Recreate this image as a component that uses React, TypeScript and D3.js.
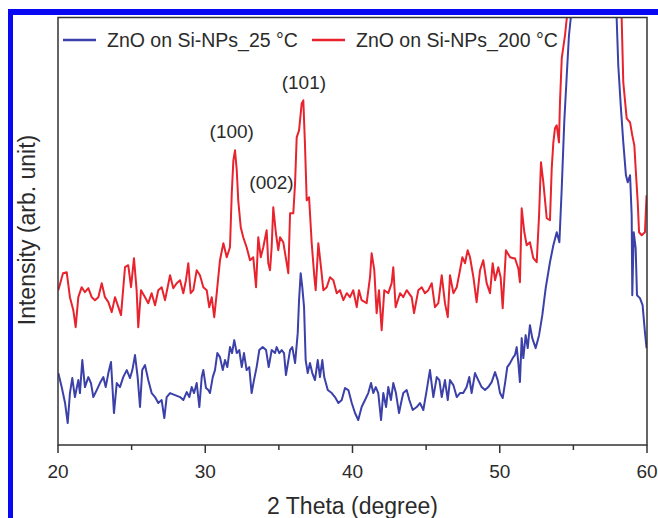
import * as d3 from 'd3';

const WIDTH = 658;
const HEIGHT = 518;

// 2θ range and axis ticks
const X_DOMAIN: [number, number] = [20, 60];
const MAJOR_TICKS = [20, 30, 40, 50, 60];
const MINOR_TICKS = [25, 35, 45, 55];

// intensity (arb. unit)
const Y_DOMAIN: [number, number] = [0, 428];

const SERIES_NAMES = ['ZnO on Si-NPs_25 °C', 'ZnO on Si-NPs_200 °C'];
const SERIES_COLORS = ['#3b41a8', '#e8232d'];

const PEAK_LABELS = ['(100)', '(002)', '(101)'];
const PEAK_POS: [number, number][] = [
  [31.8, 307],
  [34.5, 256],
  [36.7, 356],
];

// ZnO on Si-NPs_25 °C  [2θ, intensity]
const blue25: [number, number][] = [
  [20.02, 72], [20.25, 58], [20.48, 42], [20.66, 22], [20.81, 52], [20.97, 67], [21.15, 48],
  [21.38, 65], [21.49, 52], [21.65, 85], [21.83, 58], [22.06, 68], [22.24, 62], [22.4, 48],
  [22.63, 55], [22.85, 62], [23.08, 68], [23.24, 58], [23.42, 72], [23.6, 83], [23.8, 32],
  [23.99, 62], [24.21, 58], [24.43, 68], [24.67, 75], [24.89, 67], [25.05, 75], [25.23, 90],
  [25.41, 68], [25.57, 38], [25.72, 75], [25.91, 80], [26.13, 65], [26.36, 52], [26.59, 48],
  [26.81, 42], [27.04, 45], [27.22, 27], [27.38, 48], [27.61, 52], [27.95, 50], [28.29, 48],
  [28.51, 45], [28.74, 53], [28.92, 48], [29.08, 58], [29.24, 52], [29.42, 62], [29.6, 38],
  [29.76, 68], [29.87, 75], [30.05, 57], [30.21, 55], [30.32, 52], [30.51, 68], [30.66, 75],
  [30.82, 92], [31.0, 88], [31.19, 75], [31.34, 85], [31.5, 78], [31.68, 98], [31.82, 92],
  [31.97, 105], [32.14, 92], [32.31, 95], [32.48, 78], [32.63, 92], [32.81, 75], [32.99, 78],
  [33.15, 52], [33.31, 65], [33.49, 78], [33.67, 95], [33.9, 98], [34.13, 95], [34.31, 78],
  [34.51, 95], [34.74, 92], [34.85, 98], [35.03, 92], [35.19, 95], [35.35, 92], [35.48, 70],
  [35.76, 95], [35.91, 98], [36.1, 82], [36.28, 112], [36.37, 145], [36.48, 172], [36.59, 158],
  [36.71, 138], [36.82, 85], [36.96, 72], [37.11, 82], [37.27, 72], [37.45, 65], [37.64, 85],
  [37.79, 68], [37.95, 85], [38.08, 68], [38.32, 55], [38.59, 52], [38.81, 48], [39.04, 42],
  [39.27, 45], [39.49, 57], [39.72, 55], [39.95, 42], [40.17, 32], [40.39, 25], [40.62, 38],
  [40.85, 45], [41.07, 52], [41.26, 62], [41.41, 52], [41.58, 58], [41.75, 52], [41.94, 25],
  [42.09, 52], [42.28, 38], [42.43, 58], [42.61, 45], [42.77, 62], [42.95, 52], [43.16, 32],
  [43.34, 45], [43.45, 52], [43.68, 55], [43.86, 45], [44.09, 35], [44.36, 38], [44.58, 42],
  [44.81, 35], [45.04, 55], [45.26, 75], [45.49, 48], [45.72, 68], [45.9, 65], [46.06, 48],
  [46.28, 65], [46.47, 45], [46.62, 65], [46.85, 60], [47.08, 48], [47.3, 52], [47.52, 52],
  [47.75, 58], [47.93, 68], [48.09, 52], [48.32, 72], [48.54, 65], [48.77, 58], [49.0, 55],
  [49.22, 58], [49.45, 63], [49.68, 73], [49.86, 65], [50.02, 52], [50.2, 47], [50.36, 62],
  [50.51, 78], [50.7, 82], [50.92, 88], [51.03, 90], [51.15, 98], [51.26, 83], [51.37, 63],
  [51.49, 107], [51.6, 87], [51.76, 110], [51.9, 97], [52.05, 120], [52.21, 107], [52.44, 97],
  [52.67, 110], [52.89, 130], [53.12, 157], [53.41, 183], [53.64, 200], [53.87, 213], [54.05, 203],
  [54.21, 257], [54.38, 323], [54.55, 370], [54.7, 410], [54.82, 427], [55.2, 560], [55.8, 850],
  [56.4, 950], [57.0, 820], [57.5, 600], [57.94, 427], [58.05, 380], [58.23, 337], [58.39, 303],
  [58.57, 270], [58.69, 263], [58.85, 270], [58.96, 230], [59.0, 150], [59.1, 213], [59.23, 197],
  [59.32, 150], [59.52, 147], [59.7, 140], [59.86, 113], [59.97, 97],
];

// ZnO on Si-NPs_200 °C  [2θ, intensity]
const red200: [number, number][] = [
  [20.02, 155], [20.34, 172], [20.59, 173], [20.81, 148], [21.04, 135], [21.2, 118], [21.38, 148],
  [21.61, 158], [21.83, 153], [22.06, 157], [22.29, 148], [22.51, 145], [22.74, 148], [22.97, 162],
  [23.19, 148], [23.42, 143], [23.65, 133], [23.87, 148], [24.1, 138], [24.28, 130], [24.55, 178],
  [24.77, 180], [24.96, 158], [25.16, 187], [25.34, 155], [25.45, 118], [25.64, 155], [25.91, 148],
  [26.13, 142], [26.36, 152], [26.59, 140], [26.81, 155], [27.04, 158], [27.27, 145], [27.61, 170],
  [27.83, 157], [28.06, 162], [28.29, 165], [28.51, 152], [28.69, 165], [28.85, 182], [29.01, 152],
  [29.19, 155], [29.42, 175], [29.64, 170], [29.87, 158], [30.1, 155], [30.27, 138], [30.44, 148],
  [30.61, 128], [30.78, 152], [31.0, 185], [31.23, 202], [31.46, 188], [31.68, 198], [31.8, 252],
  [31.91, 285], [32.02, 295], [32.14, 275], [32.24, 245], [32.41, 218], [32.58, 208], [32.81, 198],
  [33.04, 185], [33.26, 188], [33.45, 158], [33.6, 208], [33.77, 188], [33.94, 198], [34.17, 215],
  [34.28, 182], [34.4, 175], [34.51, 198], [34.62, 238], [34.8, 212], [34.96, 195], [35.08, 208],
  [35.3, 203], [35.53, 182], [35.64, 172], [35.76, 232], [35.98, 232], [36.1, 262], [36.21, 308],
  [36.37, 315], [36.55, 342], [36.66, 345], [36.77, 302], [36.89, 245], [37.05, 248], [37.23, 202],
  [37.41, 168], [37.5, 155], [37.68, 202], [37.86, 178], [38.02, 155], [38.25, 158], [38.47, 168],
  [38.7, 165], [38.93, 152], [39.15, 155], [39.38, 145], [39.61, 152], [39.83, 148], [40.05, 155],
  [40.29, 138], [40.44, 155], [40.62, 145], [40.96, 142], [41.19, 168], [41.3, 192], [41.48, 175],
  [41.64, 132], [41.8, 155], [41.98, 115], [42.16, 155], [42.43, 152], [42.66, 162], [42.77, 178],
  [42.93, 138], [43.23, 152], [43.45, 148], [43.68, 155], [44.02, 148], [44.18, 132], [44.47, 155],
  [44.7, 158], [44.92, 152], [45.15, 155], [45.38, 162], [45.6, 138], [45.83, 142], [46.06, 170],
  [46.28, 142], [46.47, 128], [46.62, 170], [46.85, 152], [47.08, 158], [47.3, 175], [47.46, 188],
  [47.64, 182], [47.82, 195], [47.98, 188], [48.21, 168], [48.43, 143], [48.66, 175], [48.88, 185],
  [49.11, 162], [49.34, 152], [49.52, 182], [49.68, 165], [49.9, 178], [50.06, 168], [50.2, 137],
  [50.42, 195], [50.7, 188], [50.92, 187], [51.03, 187], [51.26, 177], [51.37, 163], [51.49, 237],
  [51.67, 213], [51.83, 200], [52.05, 203], [52.28, 187], [52.51, 183], [52.67, 230], [52.8, 283],
  [52.96, 263], [53.19, 227], [53.41, 225], [53.53, 277], [53.64, 303], [53.75, 317], [53.87, 320],
  [54.02, 303], [54.09, 343], [54.21, 387], [54.43, 410], [54.55, 427], [55.0, 520], [55.6, 800],
  [56.2, 950], [56.8, 900], [57.4, 700], [57.9, 530], [58.28, 427], [58.39, 363], [58.62, 327],
  [58.85, 323], [59.0, 310], [59.14, 300], [59.23, 277], [59.37, 243], [59.46, 213], [59.64, 210],
  [59.86, 213], [59.97, 250],
];

const SERIES = [blue25, red200];

const margin = { top: 17.5, right: 11, bottom: 73, left: 58 };
const innerW = WIDTH - margin.left - margin.right;
const innerH = HEIGHT - margin.top - margin.bottom;

const FONT = '"Liberation Sans", Arial, Helvetica, sans-serif';
const INK = '#2b2b2b';

export default function App() {
  const x = d3.scaleLinear().domain(X_DOMAIN).range([0, innerW]);
  const y = d3.scaleLinear().domain(Y_DOMAIN).range([innerH, 0]);

  const line = d3
    .line<[number, number]>()
    .x((d) => x(d[0]))
    .y((d) => y(d[1]));

  return (
    <svg
      width={WIDTH}
      height={HEIGHT}
      style={{ position: 'absolute', left: 0, top: 0, background: '#fff', display: 'block' }}
      fontFamily={FONT}
    >
      <defs>
        <clipPath id="plot-clip">
          <rect x={0} y={0} width={innerW} height={innerH} />
        </clipPath>
      </defs>

      {/* blue frame of the figure */}
      <rect x={8} y={9} width={WIDTH - 8} height={6} fill="#0808f2" />
      <rect x={8} y={9} width={5} height={HEIGHT - 9} fill="#0808f2" />

      <g transform={`translate(${margin.left},${margin.top})`}>
        <g clipPath="url(#plot-clip)">
          {SERIES.map((s, i) => (
            <path
              key={SERIES_NAMES[i]}
              d={line(s) ?? ''}
              fill="none"
              stroke={SERIES_COLORS[i]}
              strokeWidth={2}
              strokeLinejoin="round"
            />
          ))}
        </g>

        <rect x={0} y={0} width={innerW} height={innerH} fill="none" stroke="#333" strokeWidth={1.5} />

        {/* x axis ticks (outward) */}
        {MAJOR_TICKS.map((t) => (
          <g key={`M${t}`} transform={`translate(${x(t)},${innerH})`}>
            <line y2={8} stroke="#333" strokeWidth={1.5} />
            <text y={33} textAnchor="middle" fontSize={19} fill={INK}>
              {t}
            </text>
          </g>
        ))}
        {MINOR_TICKS.map((t) => (
          <line
            key={`m${t}`}
            x1={x(t)}
            x2={x(t)}
            y1={innerH}
            y2={innerH + 5}
            stroke="#333"
            strokeWidth={1.5}
          />
        ))}

        {/* peak labels */}
        {PEAK_LABELS.map((lab, i) => (
          <text
            key={lab}
            x={x(PEAK_POS[i][0])}
            y={y(PEAK_POS[i][1])}
            textAnchor="middle"
            fontSize={19}
            fill={INK}
          >
            {lab}
          </text>
        ))}

        {/* legend */}
        <line x1={5} x2={38} y1={22.5} y2={22.5} stroke={SERIES_COLORS[0]} strokeWidth={2.5} />
        <text x={49} y={29.5} fontSize={19.5} fill={INK}>
          {SERIES_NAMES[0]}
        </text>
        <line x1={254} x2={287} y1={22.5} y2={22.5} stroke={SERIES_COLORS[1]} strokeWidth={2.5} />
        <text x={298} y={29.5} fontSize={19.5} fill={INK}>
          {SERIES_NAMES[1]}
        </text>
      </g>

      <text x={margin.left + innerW / 2} y={514} textAnchor="middle" fontSize={23} fill={INK}>
        2 Theta (degree)
      </text>
      <text
        transform={`translate(35,${230}) rotate(-90)`}
        textAnchor="middle"
        fontSize={23}
        fill={INK}
      >
        Intensity (arb. unit)
      </text>
    </svg>
  );
}
